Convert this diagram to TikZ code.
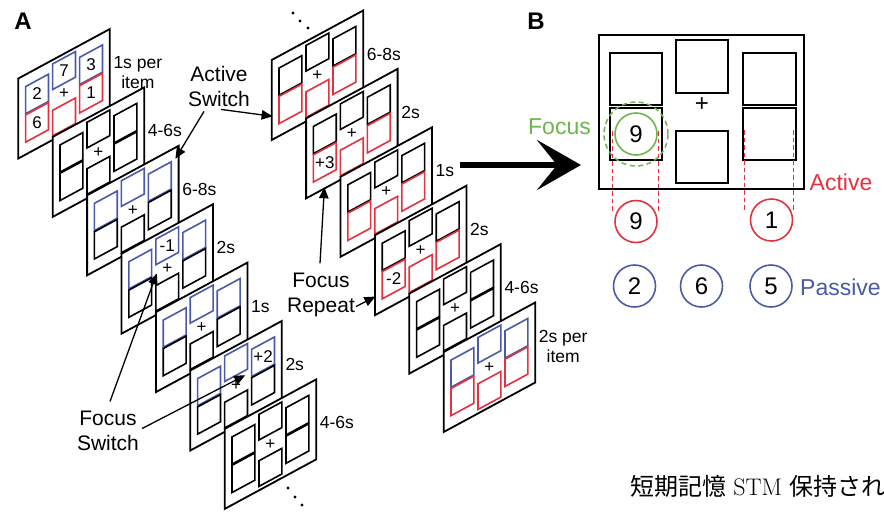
\documentclass[tikz,border=0pt]{standalone}
\usepackage{fontspec}
\newfontfamily\arial{Liberation Sans}
\newfontfamily\cjk{Noto Sans CJK JP}
\usetikzlibrary{arrows.meta,calc}

\definecolor{cueblue}{HTML}{4B5AA8}
\definecolor{cuered}{HTML}{E3323F}
\definecolor{cuegreen}{HTML}{6BB74B}

\tikzset{
  frm/.style={draw=black, fill=white, line width=1.8pt, line join=miter},
  cell/.style={line width=1.6pt},
  timelbl/.style={font=\arial\fontsize{17.5}{20}\selectfont, inner sep=0pt, align=center},
  digit/.style={font=\arial\fontsize{17}{17}\selectfont, inner sep=0pt},
  callout/.style={font=\arial\fontsize{21}{25}\selectfont, inner sep=0pt, align=center},
  ptr/.style={line width=1.3pt, -{Triangle[length=11pt,width=9.5pt]}},
  panel/.style={font=\arial\bfseries\fontsize{24}{24}\selectfont, inner sep=0pt},
  bcell/.style={draw, line width=1.8pt, inner sep=0pt},
  itm/.style={circle, draw, line width=1.6pt, minimum size=42pt, inner sep=0pt,
              font=\arial\fontsize{24}{24}\selectfont},
  tag/.style={font=\arial\fontsize{23}{23}\selectfont, inner sep=0pt},
  link/.style={draw=cuered, line width=1.5pt, dash pattern=on 4.5pt off 3pt}
}

% one cell of a display, given as a sheared box in frame units
\newcommand\cellbox[5]{\draw[cell,draw=#1] (#2,#3) -- (#4,#3) -- (#4,#5) -- (#2,#5) -- cycle;}

% one display: name, top-left x, top-left y, upper colour, lower colour, time, extras
\newcommand\memframe[7]{%
  \begin{scope}[shift={(#2,#3)}]
    \begin{scope}[x={(91.5pt,49.5pt)},y={(0pt,-80pt)}]
      \draw[frm] (0,0) -- (1,0) -- (1,1) -- (0,1) -- cycle;
      \coordinate (#1-tl) at (0,0);
      \coordinate (#1-tr) at (1,0);
      \coordinate (#1-br) at (1,1);
      \coordinate (#1-bl) at (0,1);
      \cellbox{#4}{.08}{.15}{.33}{.49}
      \cellbox{#5}{.08}{.505}{.33}{.845}
      \cellbox{#4}{.375}{.05}{.625}{.37}
      \cellbox{#5}{.375}{.63}{.625}{.95}
      \cellbox{#4}{.67}{.15}{.92}{.49}
      \cellbox{#5}{.67}{.505}{.92}{.845}
      \node[digit] (#1-plus) at (.5,.5) {+};
      #7
    \end{scope}
    \node[timelbl, anchor=west] (#1-time) at (95,-6) {#6};
  \end{scope}}

\begin{document}
\begin{tikzpicture}[x=1pt,y=-1pt]
\useasboundingbox (0,0) rectangle (884,512);
\clip (0,0) rectangle (884,512);

% ---------------- panel A, first sequence ----------------
\node[panel] (lblA) at (23,21.5) {A};

\memframe{fA0}{18.3}{78.5}{cueblue}{cuered}{1s per\\item}{%
  \node[digit] (fA0-a) at (.205,.32) {2};
  \node[digit] (fA0-b) at (.205,.675) {6};
  \node[digit] (fA0-c) at (.5,.21) {7};
  \node[digit] (fA0-d) at (.795,.32) {3};
  \node[digit] (fA0-e) at (.795,.675) {1};}
\memframe{fA1}{52.7}{136.9}{black}{black}{4-6s}{}
\memframe{fA2}{87.1}{195.3}{cueblue}{black}{6-8s}{%
  \coordinate (fA2-in) at (.965,.14);}
\memframe{fA3}{121.5}{253.7}{cueblue}{black}{2s}{%
  \node[digit] (fA3-a) at (.5,.21) {-1};
  \coordinate (fA3-in) at (.385,.485);}
\memframe{fA4}{155.9}{312.1}{cueblue}{black}{1s}{}
\memframe{fA5}{190.3}{370.5}{cueblue}{black}{2s}{%
  \node[digit] (fA5-a) at (.795,.32) {+2};
  \coordinate (fA5-in) at (.6,.43);}
\memframe{fA6}{224.7}{428.9}{black}{black}{4-6s}{}

\fill (288,488) circle (1.7pt) (295,497) circle (1.7pt) (302,505) circle (1.7pt);

% ---------------- panel A, second sequence ----------------
\fill (293,13) circle (1.7pt) (300,21) circle (1.7pt) (308,28) circle (1.7pt);

\memframe{fB0}{271.7}{60}{black}{cuered}{6-8s}{%
  \coordinate (fB0-in) at (.01,.71);}
\memframe{fB1}{306.1}{118.4}{black}{cuered}{2s}{%
  \node[digit] (fB1-a) at (.205,.675) {+3};
  \coordinate (fB1-in) at (.2,.985);}
\memframe{fB2}{340.5}{176.8}{black}{cuered}{1s}{}
\memframe{fB3}{374.9}{235.2}{black}{cuered}{2s}{%
  \node[digit] (fB3-a) at (.205,.675) {-2};
  \coordinate (fB3-in) at (.005,.77);}
\memframe{fB4}{409.3}{293.6}{black}{black}{4-6s}{}
\memframe{fB5}{443.7}{352}{cueblue}{cuered}{2s per\\item}{}

% ---------------- callouts ----------------
\node[callout] (actsw) at (219,86) {Active\\Switch};
\draw[ptr] ($(actsw.south)+(-15,5)$) -- (fA2-in);
\draw[ptr] ($(actsw.south)+(2,3)$) -- (fB0-in);

\node[callout] (focsw) at (108,430.5) {Focus\\Switch};
\draw[ptr] ($(focsw.north)+(2,-9)$) -- (fA3-in);
\draw[ptr] ($(focsw.east)+(3,-2)$) -- (fA5-in);

\node[callout] (focrep) at (321,294.5) {Focus\\Repeat};
\draw[ptr] ($(focrep.north)+(-1,-9)$) -- (fB1-in);
\draw[ptr] ($(focrep.east)+(1,12)$) -- (fB3-in);

% big arrow into panel B
\coordinate (bigfrom) at (460,165);
\coordinate (bigto) at (581,165);
\draw[line width=6pt, -{Stealth[length=44pt,width=50pt,inset=20pt]}] (bigfrom) -- (bigto);

% ---------------- panel B ----------------
\node[panel] (lblB) at (536,21.5) {B};

\node[draw, line width=1.8pt, minimum width=205pt, minimum height=154pt, inner sep=0pt]
  (disp) at (701.5,112) {};
\node[bcell, minimum width=52pt, minimum height=52pt] (cLu) at (636,79) {};
\node[bcell, minimum width=52pt, minimum height=52pt] (cLd) at (636,134) {};
\node[bcell, minimum width=52pt, minimum height=53pt] (cMu) at (702,66.5) {};
\node[bcell, minimum width=52pt, minimum height=52pt] (cMd) at (702,157) {};
\node[bcell, minimum width=53pt, minimum height=52pt] (cRu) at (769.5,79) {};
\node[bcell, minimum width=53pt, minimum height=52pt] (cRd) at (769.5,134) {};
\node[font=\arial\fontsize{24}{24}\selectfont, inner sep=0pt] (cplus) at (702,105) {+};

% focus of attention
\node[itm, draw=cuegreen] (foc) at (636,134) {9};
\node[circle, draw=cuegreen, line width=1.5pt, dash pattern=on 5pt off 3.5pt,
      minimum size=64pt, inner sep=0pt] (focring) at (636,134) {};
\node[tag, text=cuegreen] (foctag) at (559.5,127) {Focus};

% active items
\node[itm, draw=cuered] (act9) at (636,221.5) {9};
\node[itm, draw=cuered] (act1) at (771.5,220) {1};
\coordinate (lkA1) at (612.7,131);  \coordinate (lkA1e) at (612.7,213);
\coordinate (lkA2) at (658.3,131);  \coordinate (lkA2e) at (658.3,213);
\coordinate (lkB1) at (744.3,130);  \coordinate (lkB1e) at (744.3,212);
\coordinate (lkB2) at (793.3,130);  \coordinate (lkB2e) at (793.3,212);
\draw[link] (lkA1) -- (lkA1e);
\draw[link] (lkA2) -- (lkA2e);
\draw[link] (lkB1) -- (lkB1e);
\draw[link] (lkB2) -- (lkB2e);
\node[tag, text=cuered] (acttag) at (841,182.7) {Active};

% passive items
\node[itm, draw=cueblue] (pas2) at (634.5,286) {2};
\node[itm, draw=cueblue] (pas6) at (701.5,286) {6};
\node[itm, draw=cueblue] (pas5) at (771,286) {5};
\node[tag, text=cueblue] (pastag) at (840.5,287) {Passive};

% caption fragment
\node[anchor=base west, inner sep=0pt, font=\fontsize{24}{24}\selectfont] (cap) at (630,495)
  {{\cjk 短期記憶} STM {\cjk 保持され}};
\end{tikzpicture}
\end{document}
